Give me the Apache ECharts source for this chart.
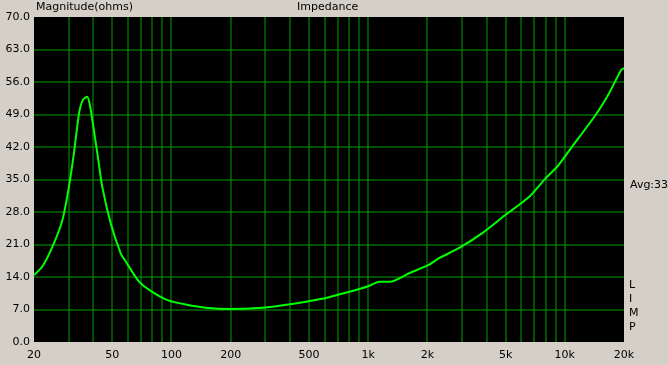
<!DOCTYPE html>
<html><head><meta charset="utf-8">
<script src="https://cdn.jsdelivr.net/npm/echarts@6/dist/echarts.min.js"></script>
<style>html,body{margin:0;padding:0;background:#d4d0c8;}#c{width:668px;height:365px;}</style>
</head><body><div id="c"></div>
<script>
const freqs = [20,22,24.8,27.9,30.1,31.9,33.9,35.5,37.3,38.5,39.6,42,44.5,49.1,55.2,58.6,68.4,79.8,97,118,149,196,290,410,584,831,1000,1138,1303,1614,2034,2282,2888,3790,5000,6600,8000,9160,10900,14340,16800,19340,20000];
const impedance = [14.4,16.2,20.5,26.3,33.4,40.6,49.3,52.2,52.8,51.0,47.8,40.6,33.4,25.6,19.1,17.3,13.0,10.8,8.9,8.1,7.4,7.1,7.4,8.2,9.3,11.0,12.0,13.0,13.0,14.8,16.6,18.0,20.2,23.4,27.4,31.3,35.3,37.8,42.1,48.9,53.6,58.6,59.0];
const xGridValues = [30,40,50,60,70,80,90,100,200,300,400,500,600,700,800,900,1000,2000,3000,4000,5000,6000,7000,8000,9000,10000];
const xLabelValues = [20,50,100,200,500,1000,2000,5000,10000,20000];
const yGridValues = [7,14,21,28,35,42,49,56,63];

const font = 'DejaVu Sans';
const gridColor = '#00a000';
const chart = echarts.init(document.getElementById('c'));

function gridLine(params, api) {
  const cs = params.coordSys;
  const dir = api.value(1);
  const v = api.value(0);
  let shape;
  if (dir === 0) {
    const x = Math.round(api.coord([v, 1])[0]);
    shape = {x1:x, y1:cs.y, x2:x, y2:cs.y + cs.height};
  } else {
    const y = Math.round(api.coord([20, v])[1]);
    shape = {x1:cs.x, y1:y, x2:cs.x + cs.width, y2:y};
  }
  return {type:'line', shape:shape, style:{stroke:gridColor, lineWidth:1}, silent:true};
}
const gridData = xGridValues.map(v=>[v,0]).concat(yGridValues.map(v=>[v,1]));

chart.setOption({
  backgroundColor:'#d4d0c8',
  animation:false,
  grid:{left:34,right:44,top:17,bottom:23,show:true,backgroundColor:'#000',borderWidth:0},
  xAxis:{type:'log',logBase:10,min:20,max:20000,
    axisLine:{show:false},
    axisTick:{show:false},
    splitLine:{show:false},
    axisLabel:{customValues:xLabelValues,color:'#000',fontFamily:font,fontSize:11,margin:8,
      formatter:v=>v>=1000?(v/1000)+'k':String(v)}
  },
  yAxis:{type:'value',min:0,max:70,interval:7,
    axisLine:{show:false},axisTick:{show:false},
    splitLine:{show:false},
    axisLabel:{color:'#000',fontFamily:font,fontSize:11,margin:4,formatter:v=>v.toFixed(1)}
  },
  series:[
    {type:'custom',z:1,silent:true,clip:true,renderItem:gridLine,data:gridData,
      encode:{x:-1,y:-1}},
    {type:'line',z:5,data:freqs.map((f,i)=>[f,impedance[i]]),smooth:0.2,showSymbol:false,
    lineStyle:{color:'#00ff00',width:2},itemStyle:{color:'#00ff00'}}],
  graphic:[
    {type:'text',left:36,top:2,style:{text:'Magnitude(ohms)',font:'11px '+font,fill:'#000'}},
    {type:'text',left:297,top:2,style:{text:'Impedance',font:'11px '+font,fill:'#000'}},
    {type:'text',left:630,top:180,style:{text:'Avg:33',font:'11px '+font,fill:'#000'}},
    {type:'text',left:629,top:278,style:{text:'L\nI\nM\nP',font:'11px '+font,fill:'#000',lineHeight:14}}
  ]
});
</script></body></html>
